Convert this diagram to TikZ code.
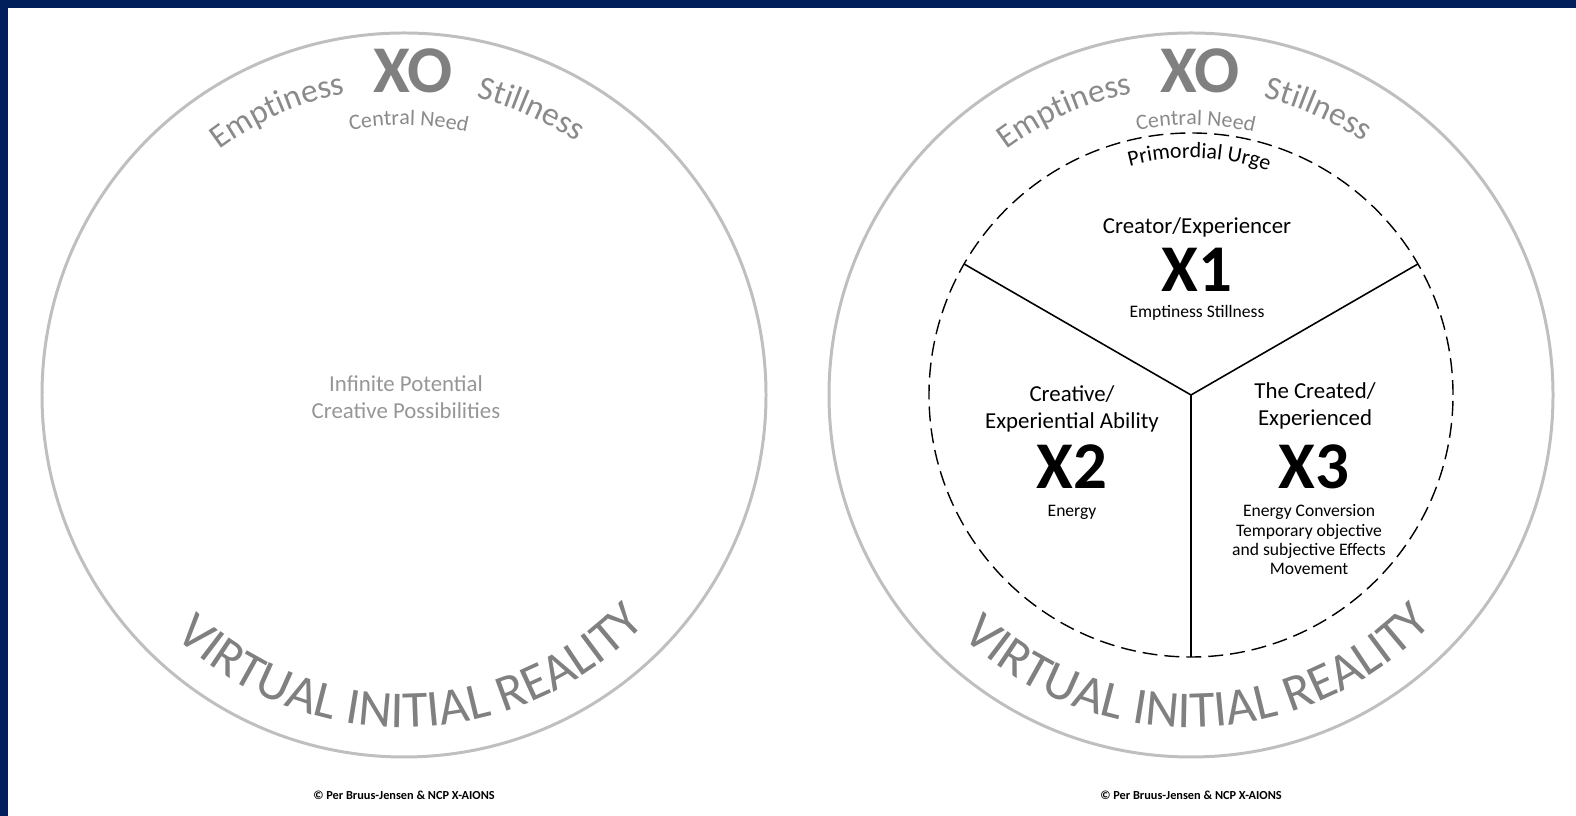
\documentclass[tikz,border=0pt]{standalone}
\usepackage{fontspec}
\setmainfont{Carlito}
\usetikzlibrary{decorations.text,calc}
\definecolor{framenavy}{RGB}{0,31,91}
\definecolor{ringgray}{RGB}{191,191,191}
\definecolor{wordgray}{RGB}{138,138,138}
\definecolor{titlegray}{RGB}{128,128,128}
\definecolor{potgray}{RGB}{150,150,150}
\newcommand\arcfont[1]{\fontsize{#1}{#1}\selectfont}

\begin{document}
\begin{tikzpicture}[inner sep=0pt,outer sep=0pt,
ring/.style={draw=ringgray,line width=1.7pt},
urge/.style={draw,dash pattern=on 8.5pt off 4pt,line width=0.8pt},
spoke/.style={draw,line width=0.9pt},
bend/.style={decorate,decoration={text along path,text align=center,text={#1}}},
mid/.style={align=center,font=\fontsize{13}{15.4}\selectfont},
big/.style={font=\fontsize{38}{38}\selectfont\bfseries},
small/.style={align=center,font=\fontsize{10}{11}\selectfont}]
\fill[framenavy] (0,0) rectangle (0.16,16.32);
\fill[framenavy] (0,16.16) rectangle (31.52,16.32);
\useasboundingbox (0,0) rectangle (31.52,16.32);

\foreach \cx/\side in {8.08/L,23.82/R}{
  \coordinate (hub\side) at (\cx,8.42);
  \draw[ring] (hub\side) circle[radius=7.24];
  \draw ($(hub\side)+(0.18,6.48)$) node[big,text=titlegray] (xo\side) {XO};
  \path[bend={|\arcfont{19}\color{wordgray}|Emptiness}] ([shift={(139:6.14)}]hub\side) arc[start angle=139,end angle=89,radius=6.14];
  \path[bend={|\arcfont{19}\color{wordgray}|Stillness}] ([shift={(91:6.12)}]hub\side) arc[start angle=91,end angle=41,radius=6.12];
  \path[bend={|\arcfont{12.5}\color{wordgray}|Central Need}] ([shift={(119:5.4)}]hub\side) arc[start angle=119,end angle=59,radius=5.4];
  \path[bend={|\arcfont{29.5}\color{titlegray}|VIRTUAL INITIAL REALITY}] ([shift={(201.5:6.65)}]hub\side) arc[start angle=201.5,end angle=341.5,radius=6.65];
  \draw ($(hub\side)+(0,-8.0)$) node[font=\fontsize{7}{8}\selectfont\bfseries] (copy\side) {\textcopyright{} Per Bruus-Jensen \& NCP X-AIONS};
}

\draw (8.12,8.38) node[mid,text=potgray] (potential) {Infinite Potential\\Creative Possibilities};

\draw[urge] (hubR) circle[radius=5.24];
\path (hubR) ++(150:5.24) coordinate (cutA) (hubR) ++(30:5.24) coordinate (cutB) (hubR) ++(270:5.24) coordinate (cutC);
\draw[spoke] (cutA) -- (hubR) -- (cutB) (hubR) -- (cutC);
\path[bend={|\arcfont{12.5}|Primordial Urge}] ([shift={(118:4.74)}]hubR) arc[start angle=118,end angle=58,radius=4.74];

\draw (23.94,11.78) node[mid] (creator) {Creator/Experiencer};
\draw (23.94,10.92) node[big] (xone) {X1};
\draw (23.94,10.06) node[small] (xonenote) {Emptiness Stillness};
\draw (21.44,8.15) node[mid] (ability) {Creative/\\Experiential Ability};
\draw (21.44,6.98) node[big] (xtwo) {X2};
\draw (21.44,6.08) node[small] (xtwonote) {Energy};
\draw (26.30,8.21) node[mid] (created) {The Created/\\Experienced};
\draw (26.28,6.98) node[big] (xthree) {X3};
\draw (26.18,5.52) node[small] (xthreenote) {Energy Conversion\\Temporary objective\\and subjective Effects\\Movement};
\end{tikzpicture}
\end{document}
